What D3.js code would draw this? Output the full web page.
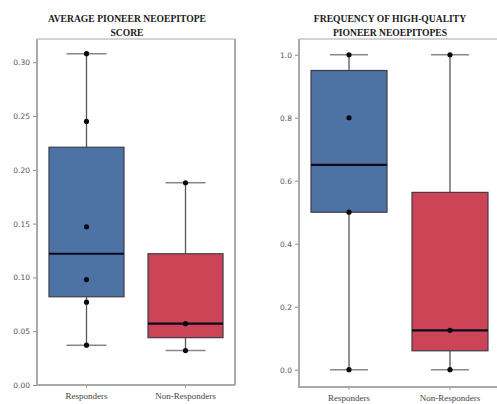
<!DOCTYPE html>
<html>
<head>
<meta charset="utf-8">
<script src="https://cdn.jsdelivr.net/npm/d3@7"></script>
<style>
  html, body { margin: 0; padding: 0; background: #fff; }
  svg { display: block; }
</style>
</head>
<body>
<svg id="chart" width="497" height="404"></svg>
<script>
// Groups shown on both panels
const groups = ["Responders", "Non-Responders"];
const groupColors = ["#4d72a4", "#cd4457"];

// Panel 1: average pioneer neoepitope score
const scoreStats = [
  { whiskLo: 0.037, q1: 0.082, median: 0.122, q3: 0.221, whiskHi: 0.308 },
  { whiskLo: 0.032, q1: 0.044, median: 0.057, q3: 0.122, whiskHi: 0.188 }
];
const scorePoints = [
  [0.308, 0.245, 0.147, 0.098, 0.077, 0.037],
  [0.188, 0.057, 0.032]
];
const scoreTicks = [0.00, 0.05, 0.10, 0.15, 0.20, 0.25, 0.30];

// Panel 2: frequency of high-quality pioneer neoepitopes
const freqStats = [
  { whiskLo: 0.0, q1: 0.50, median: 0.65, q3: 0.95, whiskHi: 1.0 },
  { whiskLo: 0.0, q1: 0.06, median: 0.125, q3: 0.563, whiskHi: 1.0 }
];
const freqPoints = [
  [1.0, 0.8, 0.5, 0.0],
  [1.0, 0.125, 0.0]
];
const freqTicks = [0.0, 0.2, 0.4, 0.6, 0.8, 1.0];

const svg = d3.select("#chart");

function drawPanel(cfg) {
  const g = svg.append("g");
  const { left, right, top, bottom } = cfg;

  const y = d3.scaleLinear().domain(cfg.yDomain).range([bottom, top]);
  const x = d3.scaleBand().domain(groups).range([left, right])
    .paddingInner(cfg.padInner).paddingOuter(cfg.padOuter);

  // frame
  const frame = "#a9a9a9";
  g.append("line").attr("x1", left).attr("x2", left).attr("y1", top).attr("y2", bottom)
    .attr("stroke", frame).attr("stroke-width", 2);
  g.append("line").attr("x1", left).attr("x2", cfg.frameRight).attr("y1", top).attr("y2", top)
    .attr("stroke", "#c4c4c4").attr("stroke-width", 1.6);
  g.append("line").attr("x1", left - 1).attr("x2", cfg.frameRight).attr("y1", bottom).attr("y2", bottom)
    .attr("stroke", frame).attr("stroke-width", 2);
  if (cfg.frameRight < 497) {
    g.append("line").attr("x1", cfg.frameRight).attr("x2", cfg.frameRight).attr("y1", top).attr("y2", bottom)
      .attr("stroke", frame).attr("stroke-width", 2);
  }

  // y axis
  const yAxis = d3.axisLeft(y).tickValues(cfg.ticks).tickFormat(cfg.fmt).tickSize(3).tickPadding(3);
  const ya = g.append("g").attr("transform", `translate(${left - 1},0)`).call(yAxis);
  ya.select(".domain").remove();
  ya.selectAll(".tick line").attr("stroke", "#888");
  ya.selectAll(".tick text").attr("fill", "#555")
    .style("font-family", "'DejaVu Sans', sans-serif").style("font-size", "7.5px");

  // x axis
  const xAxis = d3.axisBottom(x).tickSize(2).tickPadding(5);
  const xa = g.append("g").attr("transform", `translate(0,${bottom + 1})`).call(xAxis);
  xa.select(".domain").remove();
  xa.selectAll(".tick line").attr("stroke", "#999");
  xa.selectAll(".tick text").attr("fill", "#444")
    .attr("dy", "0.62em")
    .style("font-family", "'Liberation Serif', serif").style("font-size", "9px");

  // boxes
  cfg.stats.forEach((s, i) => {
    const cx = x(groups[i]) + x.bandwidth() / 2;
    const bx = x(groups[i]);
    const bw = x.bandwidth();
    const cap = cfg.capHalf;
    const lineC = "#555";
    g.append("line").attr("x1", cx).attr("x2", cx).attr("y1", y(s.whiskHi)).attr("y2", y(s.q3))
      .attr("stroke", lineC).attr("stroke-width", 1.3);
    g.append("line").attr("x1", cx).attr("x2", cx).attr("y1", y(s.q1)).attr("y2", y(s.whiskLo))
      .attr("stroke", lineC).attr("stroke-width", 1.3);
    g.append("line").attr("x1", cx - cap).attr("x2", cx + cap).attr("y1", y(s.whiskHi)).attr("y2", y(s.whiskHi))
      .attr("stroke", "#888").attr("stroke-width", 1.5);
    g.append("line").attr("x1", cx - cap).attr("x2", cx + cap).attr("y1", y(s.whiskLo)).attr("y2", y(s.whiskLo))
      .attr("stroke", "#888").attr("stroke-width", 1.5);
    g.append("rect").attr("x", bx).attr("width", bw)
      .attr("y", y(s.q3)).attr("height", y(s.q1) - y(s.q3))
      .attr("fill", groupColors[i]).attr("stroke", "#3d3d4a").attr("stroke-width", 1.2);
    g.append("line").attr("x1", bx).attr("x2", bx + bw).attr("y1", y(s.median)).attr("y2", y(s.median))
      .attr("stroke", "#0b0b1e").attr("stroke-width", 2.2);

    g.selectAll(null).data(cfg.points[i]).enter().append("circle")
      .attr("cx", cx).attr("cy", d => y(d)).attr("r", 2.6).attr("fill", "#0a0a14");
  });

  // title
  const t = g.append("text").attr("text-anchor", "middle")
    .style("font-family", "'Liberation Serif', 'DejaVu Serif', serif")
    .style("font-weight", "bold").style("font-size", "9.6px").attr("fill", "#1a1a1a");
  cfg.title.forEach((line, k) => {
    t.append("tspan").attr("x", cfg.titleX).attr("y", 21.5 + k * 14).text(line);
  });
}

drawPanel({
  left: 37, right: 235, frameRight: 235, top: 39, bottom: 385,
  yDomain: [0, 0.3216], ticks: scoreTicks, fmt: d3.format(".2f"),
  stats: scoreStats, points: scorePoints,
  padInner: 0.2424, padOuter: 0.121, capHalf: 20,
  title: ["AVERAGE PIONEER NEOEPITOPE", "SCORE"], titleX: 127
});

drawPanel({
  left: 299, right: 500, frameRight: 497, top: 39, bottom: 387,
  yDomain: [-0.055, 1.05], ticks: freqTicks, fmt: d3.format(".1f"),
  stats: freqStats, points: freqPoints,
  padInner: 0.2475, padOuter: 0.119, capHalf: 19,
  title: ["FREQUENCY OF HIGH-QUALITY", "PIONEER NEOEPITOPES"], titleX: 390
});
</script>
</body>
</html>
